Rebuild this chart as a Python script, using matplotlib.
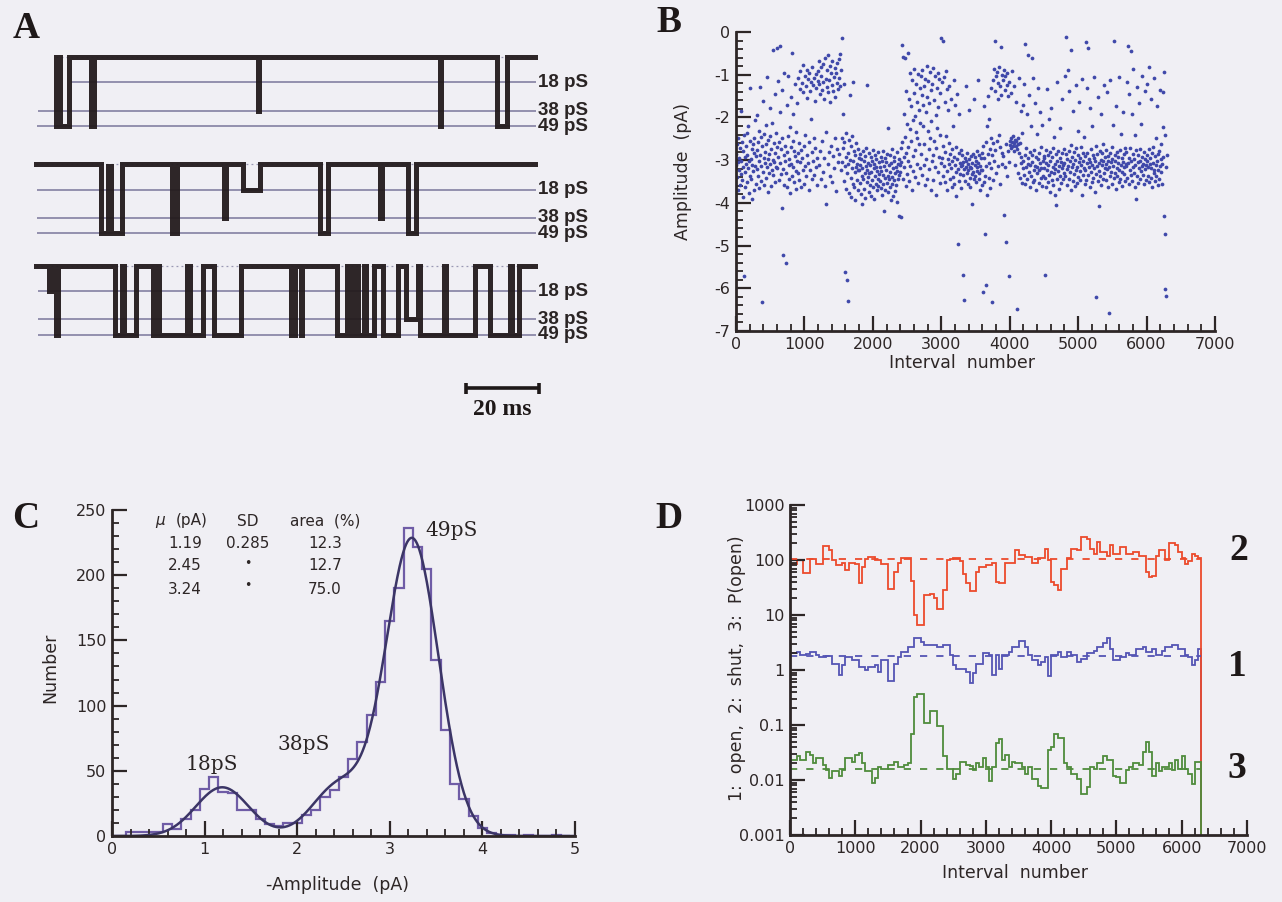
import numpy as np
import matplotlib
matplotlib.use("Agg")
import matplotlib.pyplot as plt
from matplotlib.ticker import MultipleLocator, LogLocator, NullFormatter, FuncFormatter

plt.rcParams['font.family'] = ['DejaVu Sans']
plt.rcParams['axes.unicode_minus'] = False

W, H = 1282, 902
BG = "#f0eff4"
INK = "#2d2626"

# ---------------- Panel A : single-channel traces (idealised events) ----------------
a_level_pS = [18, 38, 49]
a_level_labels = ["18 pS", "38 pS", "49 pS"]
a_trace_start_ms = [6.3, 0.9, 0.9]
a_trace_end_ms = [137.4, 137.4, 137.4]
a_trace_offset_pS = [0, -76, -148]
a_line_start_ms = [[10.4, 1.5, 1.0], [1.0, 1.0, 1.0], [1.5, 1.5, 1.5]]
# (start ms, end ms, conductance level pS)
a_events_1 = [(6.3, 6.9, 49), (7.5, 9.8, 49), (15.9, 16.8, 49), (61.5, 61.9, 38),
              (111.4, 111.7, 49), (127.2, 129.7, 49)]
a_events_2 = [(18.5, 20.6, 49), (20.6, 21.3, 38), (21.3, 24.3, 49), (38.0, 39.4, 49),
              (52.4, 52.9, 38), (57.6, 62.3, 18), (78.6, 80.7, 49), (95.1, 95.6, 38),
              (102.8, 104.9, 49)]
a_events_3 = [(4.3, 4.8, 18), (6.3, 6.8, 49), (22.4, 24.3, 49), (24.9, 28.2, 49),
              (32.9, 34.0, 49), (34.5, 42.2, 49), (42.9, 46.6, 49), (49.7, 57.1, 49),
              (70.7, 71.8, 49), (73.3, 73.8, 49), (83.3, 86.0, 49), (87.0, 88.6, 49),
              (89.1, 90.7, 49), (91.2, 93.3, 49), (95.9, 100.1, 49), (102.2, 105.4, 38),
              (105.9, 112.7, 49), (113.2, 121.1, 49), (125.3, 130.6, 49), (131.1, 133.2, 49)]
a_scalebar_ms = [118.5, 138.5]

# ---------------- Panel B : amplitude of each opening, every 6th interval ----------------
b_interval_step = 6
b_amp_01 = [-3.12,-2.85,-3.40,-2.62,-3.05,-3.71,-2.48,-3.22,-2.95,-3.58,-2.71,-3.33,-1.84,-3.01,-2.58,-3.47,-3.86,-2.79,-3.15,-2.41,
            -5.72,-3.28,-2.92,-3.64,-2.67,-3.09,-2.36,-3.52,-2.88,-3.19,-2.21,-3.77,-3.03,-2.55,-3.36,-1.32,-2.98,-3.44,-2.74,-3.92,
            -3.11,-2.63,-3.25,-2.47,-3.69,-2.83,-3.14,-2.05,-3.55,-2.91]
b_amp_02 = [-3.21,-2.76,-1.95,-3.38,-2.57,-3.02,-2.31,-3.66,-1.28,-2.89,-3.13,-2.45,-3.49,-6.32,-2.68,-3.27,-1.62,-2.94,-3.58,-2.39,
            -3.06,-2.81,-2.18,-3.42,-2.63,-3.17,-1.05,-2.97,-3.74,-2.52,-3.31,-2.86,-1.77,-3.09,-2.44,-3.61,-2.73,-3.23,-2.12,-2.99,
            -0.42,-3.35,-2.61,-3.04,-1.46,-2.83,-3.52,-2.37,-3.15,-2.70]
b_amp_03 = [-3.18,-0.38,-2.92,-1.15,-3.46,-2.58,-0.33,-3.07,-1.88,-2.74,-3.33,-4.12,-2.49,-1.36,-3.21,-5.22,-2.87,-3.58,-0.95,-3.02,
            -2.66,-5.41,-3.29,-1.71,-2.81,-3.64,-2.43,-1.04,-3.12,-2.97,-3.45,-2.22,-3.77,-1.52,-2.69,-3.08,-0.48,-3.36,-2.55,-1.93,
            -3.17,-2.78,-3.52,-1.21,-2.91,-3.26,-2.35,-3.68,-1.67,-3.01]
b_amp_04 = [-2.84,-3.31,-1.08,-2.61,-3.47,-0.92,-3.05,-1.33,-2.76,-3.62,-1.19,-2.95,-3.24,-0.78,-1.41,-3.56,-2.68,-1.02,-3.13,-2.42,
            -1.27,-3.38,-0.88,-2.89,-1.54,-3.07,-1.11,-2.57,-3.71,-0.96,-1.38,-3.22,-2.03,-1.16,-2.81,-3.44,-0.83,-1.25,-3.01,-2.49,
            -1.07,-3.35,-1.62,-2.72,-0.99,-3.16,-1.31,-2.94,-3.58,-1.14]
b_amp_05 = [-0.91,-3.12,-1.22,-0.67,-2.78,-1.45,-3.43,-1.03,-0.82,-2.55,-1.36,-3.27,-0.74,-1.18,-2.96,-1.57,-0.61,-3.61,-1.09,-2.34,
            -4.03,-0.88,-1.29,-3.08,-0.55,-1.41,-2.82,-1.13,-0.79,-3.36,-1.64,-0.97,-2.67,-1.24,-3.51,-0.69,-1.38,-2.91,-1.06,-3.19,
            -0.84,-1.52,-2.48,-0.95,-3.72,-1.19,-0.72,-2.73,-1.33,-3.04]
b_amp_06 = [-0.63,-1.08,-2.86,-0.51,-1.26,-3.22,-0.88,-2.47,-0.15,-3.05,-1.93,-2.71,-3.48,-1.21,-2.58,-3.14,-5.63,-2.92,-3.67,-2.36,
            -5.81,-3.31,-2.83,-6.29,-3.09,-2.54,-3.77,-1.47,-2.99,-3.41,-2.67,-3.86,-3.18,-2.44,-3.57,-1.18,-3.03,-2.79,-3.62,-3.27,
            -2.88,-3.94,-3.15,-2.61,-3.46,-3.08,-2.75,-3.71,-3.22,-2.95]
b_amp_07 = [-3.24,-2.86,-3.53,-3.11,-3.79,-2.97,-3.36,-4.02,-3.18,-2.78,-3.45,-3.02,-3.67,-2.91,-3.29,-3.88,-3.14,-2.72,-3.51,-3.23,
            -1.24,-3.39,-3.06,-3.74,-2.84,-3.31,-3.58,-3.12,-2.93,-3.83,-3.27,-3.01,-3.46,-2.76,-3.63,-3.19,-3.92,-3.08,-3.37,-2.88,
            -3.55,-3.15,-2.98,-3.71,-3.26,-3.43,-2.81,-3.61,-3.05,-3.33]
b_amp_08 = [-3.17,-3.48,-2.92,-3.66,-3.25,-3.02,-3.81,-3.34,-2.79,-3.57,-3.13,-4.18,-3.41,-2.96,-3.69,-3.22,-3.05,-3.53,-2.85,-3.36,
            -2.24,-3.74,-3.11,-3.44,-2.89,-3.62,-3.28,-3.93,-3.07,-3.39,-2.74,-3.56,-3.19,-3.85,-3.03,-3.47,-2.93,-3.31,-3.72,-3.15,
            -3.58,-2.82,-3.26,-3.97,-3.09,-3.43,-2.97,-4.31,-3.35,-3.12]
b_amp_09 = [-3.28,-4.33,-2.71,-3.05,-0.31,-2.58,-3.44,-0.58,-2.93,-1.92,-3.17,-0.62,-2.45,-3.61,-1.38,-2.84,-3.33,-2.16,-0.48,-3.02,
            -2.69,-1.57,-3.48,-2.27,-0.95,-3.14,-1.74,-2.56,-3.71,-1.12,-2.91,-2.05,-3.26,-1.43,-0.86,-2.77,-1.96,-3.39,-1.21,-2.34,
            -3.08,-1.65,-2.49,-0.98,-3.53,-1.83,-2.62,-1.31,-3.19,-2.12]
b_amp_10 = [-1.04,-2.86,-1.47,-3.35,-0.88,-2.19,-1.72,-3.12,-1.26,-2.63,-3.58,-1.09,-1.88,-2.97,-0.79,-1.53,-3.44,-2.31,-1.15,-2.74,
            -3.21,-1.67,-0.93,-2.48,-3.69,-1.36,-2.08,-3.03,-1.21,-2.89,-0.84,-3.47,-1.59,-2.56,-1.02,-3.16,-1.94,-2.71,-3.82,-1.32,
            -2.25,-0.97,-3.28,-1.76,-2.92,-1.11,-3.54,-2.42,-1.43,-3.07]
b_amp_11 = [-0.14,-2.95,-1.18,-3.37,-0.22,-2.68,-1.05,-3.14,-1.63,-2.81,-3.52,-0.91,-2.43,-3.26,-1.34,-3.71,-2.97,-1.82,-3.09,-2.59,
            -1.27,-3.45,-2.86,-3.18,-1.56,-3.63,-2.74,-3.02,-2.21,-3.39,-1.13,-2.92,-3.57,-3.11,-1.71,-3.28,-2.69,-3.84,-2.98,-1.44,
            -4.97,-3.21,-2.83,-3.49,-1.92,-3.06,-3.33,-2.77,-3.66,-3.14]
b_amp_12 = [-3.12,-2.88,-3.35,-5.68,-3.04,-3.21,-6.27,-2.95,-3.48,-3.17,-1.26,-3.02,-3.29,-2.84,-3.56,-3.09,-3.24,-1.83,-2.97,-3.41,
            -3.15,-3.63,-2.91,-3.19,-3.33,-3.06,-4.02,-2.86,-3.27,-3.45,-1.58,-3.11,-2.93,-3.38,-3.01,-3.52,-3.16,-2.79,-3.25,-1.12,
            -3.07,-3.43,-2.89,-3.31,-3.69,-3.13,-2.96,-3.22,-3.58,-2.83]
b_amp_13 = [-3.24,-2.67,-6.08,-3.51,-1.73,-2.94,-4.72,-3.36,-5.93,-2.58,-3.13,-2.21,-3.82,-1.49,-2.86,-3.42,-2.03,-3.07,-2.73,-3.65,
            -1.31,-2.49,-3.19,-6.31,-2.88,-1.12,-3.46,-2.61,-0.86,-3.01,-1.38,-2.77,-0.21,-3.29,-1.04,-2.55,-0.93,-1.57,-3.14,-1.19,
            -2.42,-0.82,-3.57,-1.26,-2.69,-0.35,-1.48,-3.08,-1.01,-2.83]
b_amp_14 = [-1.13,-2.91,-0.88,-4.28,-1.36,-3.17,-1.02,-2.63,-4.91,-1.24,-3.38,-0.97,-2.78,-1.51,-3.04,-1.18,-5.72,-2.56,-2.64,-1.42,
            -2.49,-2.71,-2.58,-0.91,-2.66,-2.43,-1.27,-2.61,-2.79,-2.52,-3.12,-2.68,-1.63,-2.55,-2.74,-6.48,-2.47,-3.29,-2.62,-1.08,
            -2.83,-3.41,-2.59,-1.86,-3.06,-2.92,-3.53,-2.37,-3.18,-1.71]
b_amp_15 = [-3.02,-3.34,-1.21,-2.87,-3.56,-0.28,-3.15,-2.71,-1.93,-3.43,-3.09,-0.55,-2.96,-3.27,-1.48,-3.62,-2.82,-3.11,-2.19,-3.38,
            -0.61,-3.04,-2.89,-3.51,-1.07,-3.22,-2.76,-3.46,-1.67,-3.13,-2.93,-3.71,-2.38,-3.17,-3.29,-1.32,-2.98,-3.54,-2.84,-3.24,
            -1.88,-3.07,-3.42,-2.69,-3.19,-3.61,-2.17,-3.01,-3.36,-2.91]
b_amp_16 = [-3.18,-2.94,-5.69,-3.41,-3.07,-2.77,-3.63,-1.34,-3.22,-2.89,-3.51,-3.12,-2.03,-3.34,-2.81,-3.74,-3.03,-3.27,-1.78,-3.46,
            -2.92,-3.15,-3.59,-2.71,-3.31,-2.45,-3.09,-3.82,-3.21,-4.04,-2.86,-3.43,-1.16,-3.01,-3.26,-2.78,-3.67,-3.14,-2.96,-3.38,
            -2.24,-3.05,-3.53,-2.84,-3.19,-1.57,-3.44,-3.11,-2.73,-3.29]
b_amp_17 = [-3.06,-1.02,-3.37,-2.85,-0.12,-3.21,-2.97,-3.58,-0.88,-3.13,-2.79,-3.44,-1.37,-3.02,-3.28,-2.64,-3.71,-0.43,-3.17,-2.93,
            -3.49,-1.86,-3.08,-2.81,-3.32,-3.61,-2.99,-1.23,-3.24,-2.72,-3.15,-3.53,-2.88,-2.31,-3.39,-3.04,-1.64,-3.26,-2.94,-3.47,
            -3.12,-2.69,-3.81,-1.09,-3.03,-3.35,-2.83,-3.18,-2.46,-3.57]
b_amp_18 = [-3.22,-2.91,-0.24,-3.46,-3.07,-1.31,-2.83,-3.35,-0.37,-3.16,-2.97,-3.63,-1.78,-3.04,-3.28,-2.74,-3.52,-2.19,-3.11,-2.88,
            -3.41,-1.06,-3.19,-2.95,-3.74,-3.02,-2.67,-3.33,-6.21,-3.14,-2.86,-3.49,-1.52,-3.06,-3.25,-4.08,-2.79,-3.37,-2.99,-3.58,
            -1.93,-3.12,-2.84,-3.43,-3.01,-2.62,-3.31,-1.24,-3.18,-2.93]
b_amp_19 = [-3.09,-3.47,-2.76,-3.21,-1.41,-3.02,-2.91,-3.64,-6.58,-3.16,-2.83,-3.38,-1.12,-3.05,-3.27,-2.69,-3.55,-2.97,-3.13,-2.18,
            -3.42,-0.21,-2.88,-3.31,-3.01,-3.68,-1.73,-3.19,-2.81,-3.36,-3.07,-2.93,-3.52,-1.05,-3.24,-2.77,-3.45,-3.11,-2.39,-3.28,
            -2.96,-3.61,-3.04,-1.87,-3.33,-2.85,-3.17,-3.49,-2.72,-3.08]
b_amp_20 = [-3.14,-2.82,-1.18,-3.41,-0.33,-3.07,-2.94,-3.56,-1.46,-3.22,-2.71,-0.45,-3.34,-3.03,-1.92,-3.48,-2.86,-3.17,-0.87,-3.29,
            -2.98,-3.62,-2.41,-3.11,-3.91,-2.77,-1.29,-3.38,-3.05,-2.89,-3.53,-3.19,-1.66,-3.01,-2.73,-3.44,-3.26,-2.15,-3.13,-2.92,
            -1.04,-3.35,-3.08,-2.81,-3.57,-3.21,-1.38,-2.97,-3.46,-3.12]
b_amp_21 = [-3.03,-2.88,-1.22,-3.37,-3.15,-2.74,-3.52,-0.82,-3.09,-2.96,-3.41,-1.57,-3.18,-2.83,-3.64,-3.06,-2.69,-3.31,-1.08,-3.22,
            -2.91,-3.49,-3.12,-2.47,-3.36,-1.74,-3.01,-2.86,-3.58,-3.24,-2.79,-3.43,-1.35,-3.14,-2.97,-3.27,-2.62,-3.55,-3.08,-2.92,
            -1.41,-2.23,-4.31,-0.93,-6.02,-2.41,-4.72,-6.19,-3.16,-2.87]

# ---------------- Panel C : amplitude histogram + 3-Gaussian fit ----------------
c_bin_width = 0.1
c_first_edge = 0.15
c_counts = [3, 3, 3, 3, 9, 5, 13, 20, 36, 45, 34, 33, 20, 20, 13, 9, 8, 10, 10, 16,
            20, 30, 35, 45, 59, 72, 93, 118, 165, 190, 236, 222, 205, 135, 81, 40, 28, 15, 6, 2,
            1, 1, 0, 1, 0, 0, 1, 0]
c_fit_mu = [1.19, 2.45, 3.24]
c_fit_sd = [0.285, 0.285, 0.285]
c_fit_area_pct = [12.3, 12.7, 75.0]
c_fit_total = 2170
c_peak_labels = ["18pS", "38pS", "49pS"]

# ---------------- Panel D : running values per 50 intervals ----------------
d_bin_width = 50
d_shut = [85, 85, 100, 100, 58, 58, 105, 105, 85, 85,
          180, 180, 150, 100, 80, 80, 88, 65, 90, 90,
          85, 38, 75, 105, 115, 115, 100, 100, 85, 85,
          30, 30, 60, 90, 110, 110, 110, 42, 10, 6.6,
          6.6, 23, 23, 24, 20, 13, 13, 28, 100, 105,
          110, 110, 95, 55, 38, 27, 27, 60, 75, 75,
          80, 80, 90, 40, 38, 38, 88, 88, 88, 150,
          125, 125, 115, 115, 88, 88, 108, 108, 160, 100,
          40, 35, 28, 70, 70, 108, 160, 160, 150, 260,
          260, 240, 160, 130, 210, 140, 140, 120, 185, 130,
          130, 175, 175, 130, 130, 140, 140, 120, 120, 60,
          50, 52, 120, 150, 150, 100, 200, 200, 185, 140,
          108, 85, 95, 130, 120, 108]
d_open = [2.0, 2.0, 2.1, 1.85, 1.85, 1.95, 2.1, 2.1, 1.9, 1.75,
          1.75, 1.8, 1.8, 1.3, 1.3, 0.82, 1.25, 1.7, 1.7, 1.55,
          1.55, 1.15, 1.15, 1.0, 1.15, 1.15, 1.25, 0.93, 1.5, 1.5,
          0.62, 0.62, 1.3, 1.7, 2.1, 2.1, 2.6, 2.6, 3.8, 3.8,
          3.2, 2.8, 2.8, 2.9, 2.9, 2.6, 2.6, 2.8, 2.8, 1.85,
          1.25, 1.05, 1.05, 1.05, 0.93, 0.59, 0.88, 1.3, 1.3, 2.0,
          2.0, 1.85, 0.82, 1.85, 1.05, 1.85, 1.85, 2.1, 2.6, 2.6,
          3.3, 3.3, 2.6, 1.85, 1.5, 1.5, 1.25, 1.4, 1.7, 0.78,
          1.85, 1.85, 2.1, 1.7, 1.7, 2.1, 1.85, 1.85, 1.38, 1.6,
          1.6, 2.0, 2.0, 2.2, 2.6, 2.6, 3.1, 3.8, 2.4, 1.5,
          1.5, 1.7, 1.7, 2.0, 1.85, 1.85, 2.4, 2.4, 2.6, 2.1,
          2.1, 2.4, 1.9, 1.9, 2.2, 2.6, 2.6, 2.8, 2.8, 2.4,
          2.4, 1.85, 1.7, 1.25, 1.5, 2.4]
d_popen = [.023, .023, .027, .023, .023, .032, .029, .020, .025, .025,
           .019, .015, .011, .0144, .0144, .012, .015, .025, .025, .021,
           .029, .031, .020, .0144, .0144, .0089, .011, .017, .016, .016,
           .019, .019, .021, .017, .017, .019, .020, .07, .32, .36,
           .36, .108, .108, .18, .18, .095, .095, .027, .016, .016,
           .0103, .013, .021, .021, .019, .018, .015, .020, .017, .025,
           .017, .0095, .017, .048, .055, .023, .029, .017, .021, .020,
           .020, .017, .013, .017, .0103, .0103, .0079, .0072, .0072, .035,
           .04, .07, .059, .059, .02, .017, .013, .013, .0103, .0055,
           .0055, .0075, .017, .016, .020, .020, .027, .023, .023, .012,
           .0115, .0089, .0089, .015, .017, .020, .020, .019, .032, .05,
           .032, .012, .020, .0144, .017, .017, .020, .015, .023, .016,
           .027, .016, .013, .0085, .021, .021]
d_means = {"shut": 105, "open": 1.8, "popen": 0.016}
d_curve_labels = ["2", "1", "3"]

# ======================================================================
fig = plt.figure(figsize=(W / 100, H / 100), dpi=100, facecolor=BG)


def add_px_axes(x0, y0, x1, y1):
    ax = fig.add_axes([x0 / W, 1 - y1 / H, (x1 - x0) / W, (y1 - y0) / H])
    ax.set_facecolor("none")
    return ax


def ftext(x, y, s, **kw):
    fig.text(x / W, 1 - y / H, s, **kw)


TICK_FS = 11.5
LAB_FS = 12.5


def style_axes(ax):
    for s in ["top", "right"]:
        ax.spines[s].set_visible(False)
    for s in ["left", "bottom"]:
        ax.spines[s].set_linewidth(2.0)
        ax.spines[s].set_color(INK)
    ax.tick_params(which="major", direction="in", length=11, width=1.6, colors=INK,
                   labelsize=TICK_FS, pad=4)
    ax.tick_params(which="minor", direction="in", length=5, width=1.3, colors=INK)


LETTER = dict(family="Liberation Serif", weight="bold", fontsize=27, color="#1e1818",
              ha="center", va="center")
ftext(26, 29, "A", **LETTER)
ftext(669, 23, "B", **LETTER)
ftext(26, 518, "C", **LETTER)
ftext(669, 518, "D", **LETTER)

# ---------------- A ----------------
axA = add_px_axes(33, 40, 600, 420)
axA.set_xlim(0, 155.3)
axA.set_ylim(-257.4, 12.1)
axA.axis("off")
all_events = [a_events_1, a_events_2, a_events_3]
for i, events in enumerate(all_events):
    off = a_trace_offset_pS[i]
    axA.hlines(off, a_trace_start_ms[i], a_trace_end_ms[i], colors="#9a98b4", lw=0.9,
               linestyles=(0, (1.5, 2.5)))
    for j, lev in enumerate(a_level_pS):
        axA.hlines(off - lev, a_line_start_ms[i][j], 137.9, colors="#8c89a8", lw=1.3)
        axA.text(138.3, off - lev, a_level_labels[j], family="Liberation Sans",
                 weight="bold", fontsize=13.5, color="#2a2424", ha="left", va="center")
    t = [a_trace_start_ms[i]]
    lv = [0]
    for s, e, l in events:
        t += [s, e]
        lv += [l, 0]
    t.append(a_trace_end_ms[i])
    lv.append(lv[-1])
    axA.plot(t, off - np.array(lv), drawstyle="steps-post", color="#231b1d", lw=3.6,
             solid_joinstyle="miter", alpha=0.95)
sb_y = a_trace_offset_pS[2] - 87
axA.hlines(sb_y, a_scalebar_ms[0], a_scalebar_ms[1], colors="#1e1818", lw=2.6)
axA.vlines(a_scalebar_ms, sb_y - 4, sb_y + 4, colors="#1e1818", lw=2.6)
axA.text(np.mean(a_scalebar_ms), sb_y - 15, "%d ms" % (a_scalebar_ms[1] - a_scalebar_ms[0]),
         family="Liberation Serif", weight="bold", fontsize=17, color="#1e1818",
         ha="center", va="center")

# ---------------- B ----------------
axB = add_px_axes(736, 32, 1215, 331)
style_axes(axB)
b_amp = np.array(b_amp_01 + b_amp_02 + b_amp_03 + b_amp_04 + b_amp_05 + b_amp_06 + b_amp_07
                 + b_amp_08 + b_amp_09 + b_amp_10 + b_amp_11 + b_amp_12 + b_amp_13 + b_amp_14
                 + b_amp_15 + b_amp_16 + b_amp_17 + b_amp_18 + b_amp_19 + b_amp_20 + b_amp_21)
b_interval = np.arange(len(b_amp)) * b_interval_step
axB.plot(b_interval, b_amp, "o", ms=2.7, mew=0, color="#3f48aa")
axB.set_xlim(0, 7000)
axB.set_ylim(-7, 0)
axB.xaxis.set_major_locator(MultipleLocator(1000))
axB.xaxis.set_minor_locator(MultipleLocator(200))
axB.yaxis.set_major_locator(MultipleLocator(1))
axB.yaxis.set_minor_locator(MultipleLocator(0.2))
axB.yaxis.set_major_formatter(FuncFormatter(lambda v, p: "%d" % round(v)))
ftext(683, 172, "Amplitude  (pA)", rotation=90, fontsize=LAB_FS, color=INK, ha="center", va="center")
ftext(962, 363, "Interval  number", fontsize=LAB_FS, color=INK, ha="center", va="center")

# ---------------- C ----------------
axC = add_px_axes(112, 510, 575, 836)
style_axes(axC)
c_edges = c_first_edge + c_bin_width * np.arange(len(c_counts) + 1)
axC.stairs(c_counts, c_edges, baseline=0, color="#6f5ca6", lw=1.6)
xs = np.linspace(0.0, 5.0, 801)
fit = np.zeros_like(xs)
for mu, sd, ar in zip(c_fit_mu, c_fit_sd, c_fit_area_pct):
    fit += c_fit_total * c_bin_width * ar / 100 * np.exp(-(xs - mu) ** 2 / (2 * sd ** 2)) / (sd * np.sqrt(2 * np.pi))
axC.plot(xs, fit, color="#3b3566", lw=1.8)
axC.set_xlim(0, 5)
axC.set_ylim(0, 250)
axC.xaxis.set_major_locator(MultipleLocator(1))
axC.xaxis.set_minor_locator(MultipleLocator(0.2))
axC.yaxis.set_major_locator(MultipleLocator(50))
axC.yaxis.set_minor_locator(MultipleLocator(10))
ftext(50, 668, "Number", rotation=90, fontsize=LAB_FS, color=INK, ha="center", va="center")
ftext(338, 885, "-Amplitude  (pA)", fontsize=LAB_FS, color=INK, ha="center", va="center")
TBL = dict(fontsize=11, color=INK, ha="center", va="center")
ftext(160, 521, "\u03bc", fontsize=11, style="italic", color=INK, ha="center", va="center")
ftext(192, 521, "(pA)", **TBL)
ftext(248, 521, "SD", **TBL)
ftext(325, 521, "area  (%)", **TBL)
for r in range(3):
    yy = 543 + r * 23
    ftext(185, yy, "%.2f" % c_fit_mu[r], **TBL)
    if r == 0:
        ftext(248, yy, "%.3f" % c_fit_sd[r], **TBL)
    else:
        ftext(248, yy - 3, "\u2022", fontsize=9, color=INK, ha="center", va="center")
    ftext(325, yy, "%.1f" % c_fit_area_pct[r], **TBL)
SER = dict(family="DejaVu Serif", fontsize=14.5, color="#2a2424", ha="center", va="center")
ftext(212, 765, c_peak_labels[0], **SER)
ftext(304, 745, c_peak_labels[1], **SER)
ftext(452, 530, c_peak_labels[2], **SER)

# ---------------- D ----------------
axD = add_px_axes(790, 505, 1247, 835)
style_axes(axD)
d_edges = d_bin_width * np.arange(len(d_shut) + 1)
axD.set_yscale("log")
axD.stairs(d_open, d_edges, baseline=0.001, color="#5454b4", lw=1.3)
axD.stairs(d_shut, d_edges, baseline=0.001, color="#ec4a2c", lw=1.3)
axD.stairs(d_popen, d_edges, baseline=0.001, color="#4f8c3c", lw=1.3)
end = d_edges[-1]
axD.hlines(d_means["shut"], 0, end, colors="#ec4a2c", lw=1.3, linestyles=(0, (4, 5)))
axD.hlines(d_means["open"], 0, end, colors="#5454b4", lw=1.3, linestyles=(0, (4, 5)))
axD.hlines(d_means["popen"], 0, end, colors="#4f8c3c", lw=1.3, linestyles=(0, (4, 5)))
axD.set_xlim(0, 7000)
axD.set_ylim(0.001, 1000)
axD.xaxis.set_major_locator(MultipleLocator(1000))
axD.xaxis.set_minor_locator(MultipleLocator(200))
axD.yaxis.set_major_locator(LogLocator(base=10, numticks=10))
axD.yaxis.set_minor_locator(LogLocator(base=10, subs=np.arange(2, 10), numticks=20))
axD.yaxis.set_minor_formatter(NullFormatter())
axD.yaxis.set_major_formatter(FuncFormatter(lambda v, p: "%g" % v))
ftext(737, 668, "1:  open,  2:  shut,  3:  P(open)", rotation=90, fontsize=LAB_FS, color=INK,
      ha="center", va="center")
ftext(1015, 873, "Interval  number", fontsize=LAB_FS, color=INK, ha="center", va="center")
DL = dict(family="Liberation Serif", weight="bold", fontsize=27, color="#1e1818",
          ha="center", va="center")
ftext(1239, 550, d_curve_labels[0], **DL)
ftext(1237, 667, d_curve_labels[1], **DL)
ftext(1237, 768, d_curve_labels[2], **DL)

fig.savefig("out.png", dpi=100, facecolor=BG)
